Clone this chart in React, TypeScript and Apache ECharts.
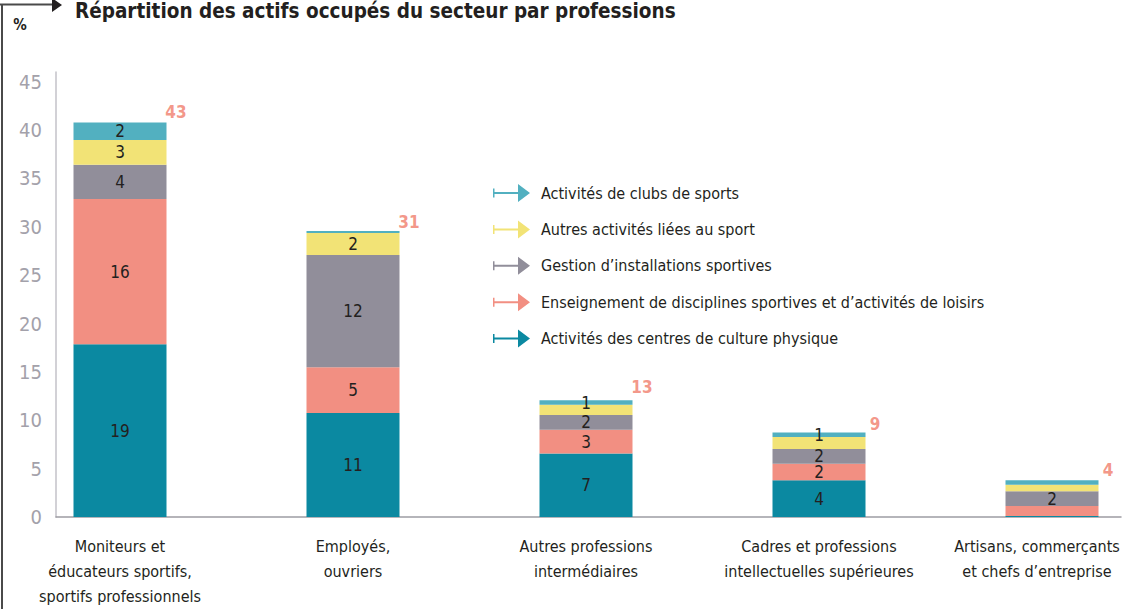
import React, { useEffect, useRef } from "react";
import * as echarts from "echarts";

// ---- Data ----
const CATEGORIES = [
  "Moniteurs et\néducateurs sportifs,\nsportifs professionnels",
  "Employés,\nouvriers",
  "Autres professions\nintermédiaires",
  "Cadres et professions\nintellectuelles supérieures",
  "Artisans, commerçants\net chefs d’entreprise",
];

const SERIES_NAMES = [
  "Activités des centres de culture physique",
  "Enseignement de disciplines sportives et d’activités de loisirs",
  "Gestion d’installations sportives",
  "Autres activités liées au sport",
  "Activités de clubs de sports",
];

const CENTRES = [18.8, 11.3, 6.9, 4.0, 0.1];
const ENSEIGNEMENT = [15.8, 5.0, 2.6, 1.8, 1.1];
const GESTION = [3.7, 12.2, 1.6, 1.6, 1.6];
const AUTRES = [2.7, 2.4, 1.1, 1.3, 0.7];
const CLUBS = [1.9, 0.2, 0.5, 0.5, 0.5];

const CENTRES_LABELS = ["19", "11", "7", "4", ""];
const ENSEIGNEMENT_LABELS = ["16", "5", "3", "2", ""];
const GESTION_LABELS = ["4", "12", "2", "2", "2"];
const AUTRES_LABELS = ["3", "2", "", "", ""];
const CLUBS_LABELS = ["2", "", "1", "1", ""];

const TOTALS = [43, 31, 13, 9, 4];

const Y_TICKS_MAX = 46;
const Y_INTERVAL = 5;
const BAR_SCALE_MAX = 48.4;

const COLORS = ["#0b89a1", "#f28f82", "#918e9a", "#f2e376", "#52b0c0"];

const TITLE = "Répartition des actifs occupés du secteur par professions";

const FONT = "'Liberation Sans Narrow', 'DejaVu Sans Condensed', 'Roboto', sans-serif";

const ARROW_ICON =
  "path://M0,4.5L1.5,4.5L1.5,8L25,8L25,0L37,9L25,18L25,10L1.5,10L1.5,13.5L0,13.5Z";

export default function App() {
  const ref = useRef<HTMLDivElement>(null);

  useEffect(() => {
    if (!ref.current) return;
    const chart = echarts.init(ref.current, null, { renderer: "svg" });

    const values = [CENTRES, ENSEIGNEMENT, GESTION, AUTRES, CLUBS];
    const labels = [CENTRES_LABELS, ENSEIGNEMENT_LABELS, GESTION_LABELS, AUTRES_LABELS, CLUBS_LABELS];

    const barSeries = values.map((arr, si) => ({
      name: SERIES_NAMES[si],
      type: "bar",
      stack: "total",
      xAxisIndex: 1,
      yAxisIndex: 1,
      barWidth: 93,
      clip: false,
      itemStyle: { color: COLORS[si] },
      data: arr,
      label: {
        show: true,
        position: "inside",
        fontFamily: FONT,
        fontSize: 17,
        lineHeight: 14,
        color: "#231f20",
        formatter: (p: any) => labels[si][p.dataIndex],
      },
    }));

    const option: any = {
      animation: false,
      backgroundColor: "#ffffff",
      grid: [
        { left: 56, right: 2, top: 72, bottom: 92, containLabel: false, outerBoundsMode: "none" },
        { left: 120, right: 71, top: 72, bottom: 92, containLabel: false, outerBoundsMode: "none" },
      ],
      legend: {
        orient: "vertical",
        left: 488,
        top: 179,
        itemWidth: 37,
        itemHeight: 18,
        itemGap: 18.4,
        icon: ARROW_ICON,
        selectedMode: false,
        data: [...SERIES_NAMES].reverse(),
        textStyle: {
          fontFamily: FONT,
          fontSize: 16,
          color: "#231f20",
          padding: [0, 0, 0, 6],
        },
      },
      xAxis: [
        {
          gridIndex: 0,
          type: "value",
          min: 0,
          max: 1,
          axisLine: { show: true, onZero: false, lineStyle: { color: "#9d9ca3", width: 1.5 } },
          axisTick: { show: false },
          axisLabel: { show: false },
          splitLine: { show: false },
        },
        {
          gridIndex: 1,
          type: "category",
          boundaryGap: false,
          data: CATEGORIES,
          axisLine: { show: false },
          axisTick: { show: false },
          splitLine: { show: false },
          axisLabel: {
            interval: 0,
            margin: 17,
            fontFamily: FONT,
            fontSize: 16,
            lineHeight: 25,
            color: "#231f20",
            formatter: (text: string, i: number) => {
              if (i === CATEGORIES.length - 1) {
                return text
                  .split("\n")
                  .map((l) => `{s|${l}}`)
                  .join("\n");
              }
              return text;
            },
            rich: {
              s: {
                fontFamily: FONT,
                fontSize: 16,
                lineHeight: 25,
                color: "#231f20",
                padding: [0, 30, 0, 0],
              },
            },
          },
        },
      ],
      yAxis: [
        {
          gridIndex: 0,
          type: "value",
          min: 0,
          max: Y_TICKS_MAX,
          interval: Y_INTERVAL,
          axisLine: { show: true, onZero: false, lineStyle: { color: "#c3c2c9", width: 1.5 } },
          axisTick: { show: false },
          splitLine: { show: false },
          axisLabel: {
            margin: 14,
            fontFamily: FONT,
            fontSize: 20,
            color: "#a3a1aa",
            formatter: (v: number) => (v % Y_INTERVAL === 0 ? String(v) : ""),
          },
        },
        {
          gridIndex: 1,
          type: "value",
          min: 0,
          max: BAR_SCALE_MAX,
          show: false,
          splitLine: { show: false },
        },
      ],
      series: [
        ...barSeries,
        {
          name: "Total",
          type: "scatter",
          xAxisIndex: 1,
          yAxisIndex: 1,
          symbolSize: 0,
          clip: false,
          data: TOTALS,
          label: {
            show: true,
            position: "inside",
            offset: [56, -10],
            fontFamily: FONT,
            fontWeight: "bold",
            fontSize: 17,
            color: "#f07c6a",
            formatter: (p: any) => String(TOTALS[p.dataIndex]),
          },
        },
      ],
      graphic: [
        {
          type: "line",
          shape: { x1: 2, y1: 4.5, x2: 2, y2: 609 },
          style: { stroke: "#4a4a4a", lineWidth: 2 },
        },
        {
          type: "line",
          shape: { x1: 0, y1: 4.5, x2: 54, y2: 4.5 },
          style: { stroke: "#4a4a4a", lineWidth: 2 },
        },
        {
          type: "polygon",
          shape: { points: [[52, -2], [62, 5], [52, 12]] },
          style: { fill: "#231f20" },
        },
        {
          type: "text",
          x: 75,
          y: 0,
          style: {
            text: TITLE,
            fontFamily: FONT,
            fontWeight: "bold",
            fontSize: 20.5,
            fill: "#231f20",
            verticalAlign: "top",
          },
        },
        {
          type: "text",
          x: 20,
          y: 25,
          style: {
            text: "%",
            fontFamily: FONT,
            fontWeight: "bold",
            fontSize: 15,
            fill: "#231f20",
            align: "center",
            verticalAlign: "middle",
          },
        },
      ],
    };

    chart.setOption(option);
    return () => chart.dispose();
  }, []);

  return (
    <div
      ref={ref}
      style={{ position: "fixed", left: 0, top: 0, width: 1123, height: 609 }}
    />
  );
}
